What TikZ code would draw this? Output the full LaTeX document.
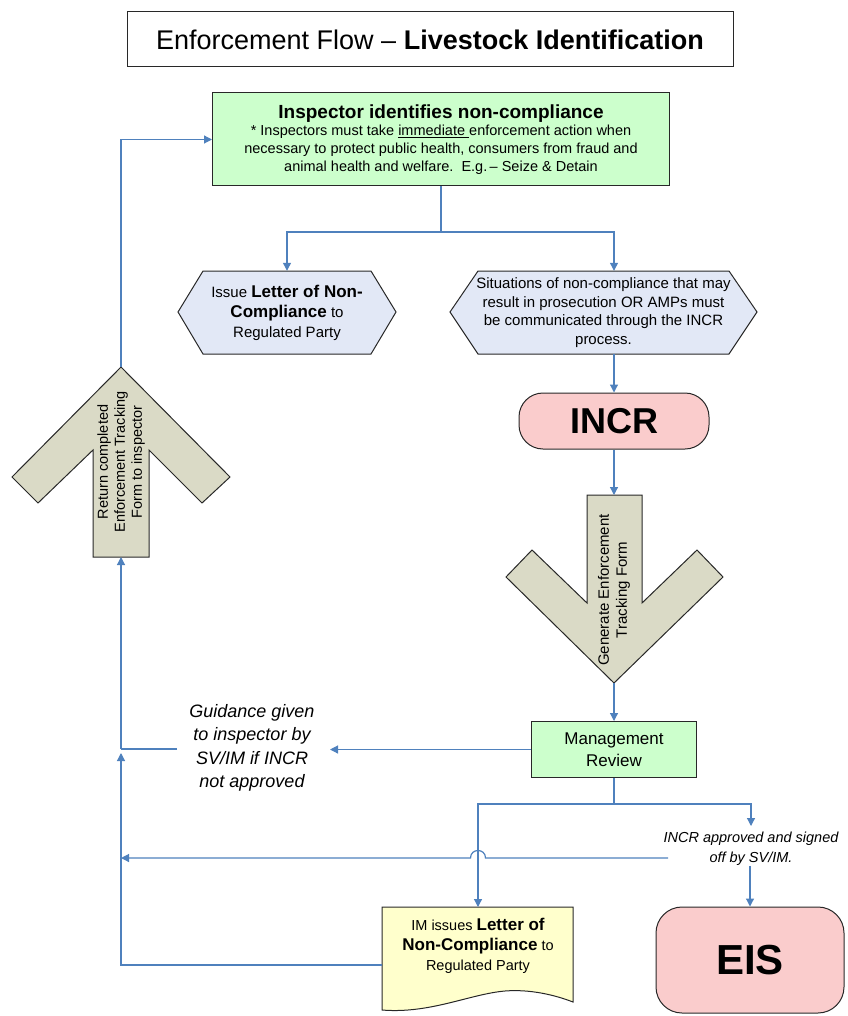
\documentclass[tikz,border=0pt]{standalone}
\usepackage{fontspec}
\setmainfont{Liberation Sans}
\usetikzlibrary{arrows.meta}
\definecolor{conn}{RGB}{79,129,189}
\definecolor{gfill}{RGB}{204,255,204}
\definecolor{hfill}{RGB}{226,232,246}
\definecolor{pfill}{RGB}{250,204,204}
\definecolor{afill}{RGB}{218,218,198}
\definecolor{yfill}{RGB}{255,255,204}
\definecolor{bord}{RGB}{40,40,40}
\tikzset{
  link/.style={draw=conn, line width=1.2pt, -{Triangle[width=8pt,length=8pt]}},
  plainlink/.style={draw=conn, line width=1.2pt},
  boxshape/.style={draw=bord, line width=1pt, inner sep=0pt},
  shapeline/.style={draw=bord, line width=1pt},
}
\begin{document}
\begin{tikzpicture}[x=1pt,y=-1pt]
\useasboundingbox (0,0) rectangle (847,1016);

% title
\node[boxshape, fill=white, minimum width=606pt, minimum height=55pt] (title) at (430,39.5)
  {\fontsize{27}{31}\selectfont Enforcement Flow – \textbf{Livestock Identification}};

% inspector box
\node[boxshape, fill=gfill, minimum width=457pt, minimum height=93pt, align=center,
      font=\fontsize{14.5}{18}\selectfont] (insp) at (441,139.5)
  {{\fontsize{19}{22}\selectfont\bfseries Inspector identifies non-compliance}\\[-1pt]
   * Inspectors must take \underline{immediate }enforcement action when\\
   necessary to protect public health, consumers from fraud and\\
   animal health and welfare.\ \ E.g.\,– Seize \& Detain};

% hexagons
\fill[hfill] (178,312) -- (203,271) -- (371,271) -- (396,312) -- (371,354) -- (203,354) -- cycle;
\draw[shapeline] (178,312) -- (203,271) -- (371,271) -- (396,312) -- (371,354) -- (203,354) -- cycle;
\node[align=center, inner sep=0pt, minimum width=218pt, minimum height=83pt,
      font=\fontsize{15}{20}\selectfont] (lhex) at (287,312.5)
  {Issue {\fontsize{17}{20}\selectfont\bfseries Letter of Non-}\\
   {\fontsize{17}{20}\selectfont\bfseries Compliance} to\\
   Regulated Party};

\fill[hfill] (450,312) -- (478,271) -- (729,271) -- (757,312) -- (729,354) -- (478,354) -- cycle;
\draw[shapeline] (450,312) -- (478,271) -- (729,271) -- (757,312) -- (729,354) -- (478,354) -- cycle;
\node[align=center, inner sep=0pt, minimum width=307pt, minimum height=83pt,
      font=\fontsize{15}{18.5}\selectfont] (rhex) at (603.5,312.5)
  {Situations of non-compliance that may\\
   result in prosecution OR AMPs must\\
   be communicated through the INCR\\
   process.};

% INCR
\node[boxshape, fill=pfill, rounded corners=24pt, minimum width=190pt, minimum height=56pt,
      font=\fontsize{36}{40}\selectfont\bfseries] (incr) at (614,421) {INCR};

% down arrow (generate)
\draw[shapeline, fill=afill] (587,495) -- (642,495) -- (642,603) -- (697,550) -- (723,577)
  -- (614,683) -- (506,577) -- (532,550) -- (587,603) -- cycle;
\node[rotate=90, align=center, inner sep=0pt, font=\fontsize{15}{18}\selectfont] (gen) at (614,590)
  {Generate Enforcement\\ Tracking Form};
\coordinate (gentop) at (614,495);
\coordinate (gentip) at (614,683);

% up arrow (return)
\draw[shapeline, fill=afill] (93,557) -- (149,557) -- (149,450) -- (202,503) -- (230,477)
  -- (121,367) -- (12,477) -- (38,503) -- (93,450) -- cycle;
\node[rotate=90, align=center, inner sep=0pt, font=\fontsize{14.5}{17}\selectfont] (ret) at (121,462)
  {Return completed\\ Enforcement Tracking\\ Form to inspector};
\coordinate (retbot) at (121,557);
\coordinate (rettip) at (121,367);

% management review
\node[boxshape, fill=gfill, minimum width=165pt, minimum height=56pt, align=center,
      font=\fontsize{17}{22}\selectfont] (mgmt) at (614,749.5) {Management\\ Review};

% guidance label
\node[align=center, inner sep=0pt, font=\fontsize{18}{23.5}\selectfont\itshape] (guid) at (252,748)
  {Guidance given\\ to inspector by\\ SV/IM if INCR\\ not approved};

% approved label
\node[align=center, inner sep=0pt, font=\fontsize{14.5}{20}\selectfont\itshape] (appr) at (751,849)
  {INCR approved and signed\\ off by SV/IM.};

% document
\draw[shapeline, fill=yfill] (382,907) -- (573,907) -- (573,1002)
  .. controls (555,995) and (530,989) .. (505,991)
  .. controls (470,994) and (430,1014) .. (382,1010) -- cycle;
\node[align=center, inner sep=0pt, font=\fontsize{14.5}{20}\selectfont] (doc) at (478,946)
  {IM issues {\fontsize{17}{20}\selectfont\bfseries Letter of}\\
   {\fontsize{17}{20}\selectfont\bfseries Non-Compliance} to\\
   Regulated Party};
\coordinate (doctop) at (478,907);
\coordinate (docleft) at (382,965);

% EIS
\node[boxshape, fill=pfill, rounded corners=26pt, minimum width=188pt, minimum height=106pt,
      font=\fontsize{42}{46}\selectfont\bfseries] (eis) at (750,960) {EIS};

% ---- connectors ----
\coordinate (j1) at (441,232);
\draw[plainlink] (insp.south) -- (j1);
\draw[link] (j1) -| (lhex.north);
\draw[link] (j1) -| (incr.north |- rhex.north);
\draw[link] (incr.north |- rhex.south) -- (incr.north);
\draw[link] (incr.south) -- (gentop);
\draw[link] (gentip) -- (mgmt.north);
\coordinate (gtip) at (330,749.5);
\draw[link] (mgmt.west) -- (gtip);
\draw[link] (rettip) |- (insp.west);

% left return line
\coordinate (gl) at (177,749);
\coordinate (lv) at (121,749);
\draw[plainlink] (gl) -- (lv);
\draw[link] (lv) -- (retbot);
\coordinate (lb) at (121,965);
\draw[link] (docleft) -- (lb) -- (121,753);

% management branches
\coordinate (j2) at (614,804);
\draw[plainlink] (mgmt.south) -- (j2);
\coordinate (ja) at (751,804);
\coordinate (jb) at (751,826);
\draw[link] (j2) -- (ja) -- (jb);
\draw[link] (appr.south -| eis.north) -- (eis.north);

% branch to document
\draw[link] (j2) -| (doctop);

% crossing line with hop
\coordinate (cr) at (668,858);
\coordinate (cl) at (121,858);
\draw[link] (cr) -- (485.5,858) .. controls (485.5,848) and (470.5,848) .. (470.5,858) -- (cl);
\end{tikzpicture}
\end{document}
